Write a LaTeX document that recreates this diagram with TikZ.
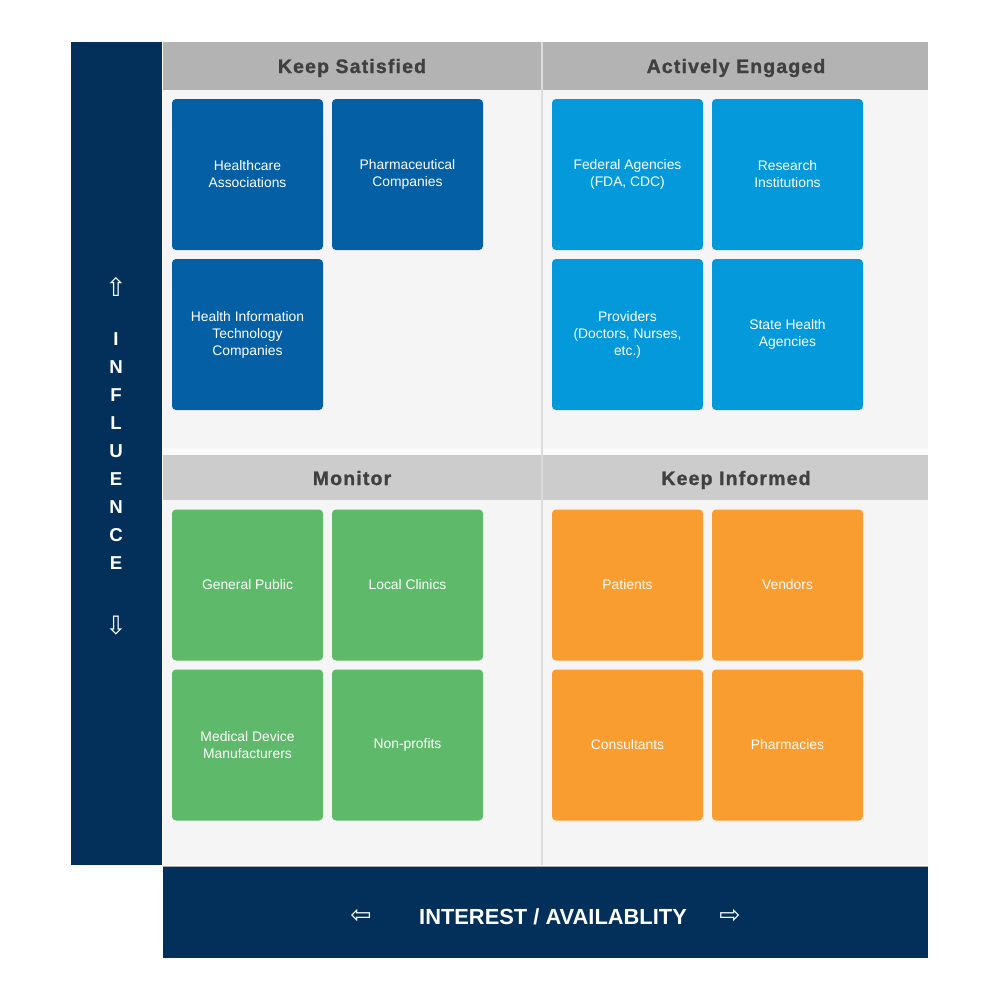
\documentclass[tikz,border=0pt]{standalone}
\usepackage{fontspec}
\setmainfont{Liberation Sans}
\newfontfamily\symfont{DejaVu Sans}
\newfontfamily\headfont[LetterSpace=6,BoldFeatures={FakeBold=1.2}]{Liberation Sans}
\definecolor{navy}{HTML}{02305A}
\definecolor{hdtop}{HTML}{B3B3B3}
\definecolor{hdbot}{HTML}{CCCCCC}
\definecolor{panel}{HTML}{F5F5F5}
\definecolor{divider}{HTML}{DCDCDC}
\definecolor{hdtext}{HTML}{404040}
\definecolor{satblue}{HTML}{045FA5}
\definecolor{engblue}{HTML}{0499DB}
\definecolor{mongreen}{HTML}{5EB96A}
\definecolor{infoorange}{HTML}{F99D31}
\begin{document}
\begin{tikzpicture}[x=0.75pt, y=-0.75pt,
    stake/.style={fill=#1, rounded corners=3pt, minimum width=113.25pt,
        minimum height=113.25pt, inner sep=0pt, align=center, text=white,
        font=\fontsize{10.4}{12.7}\selectfont},
    quadtitle/.style={anchor=base, text=hdtext, font=\headfont\bfseries\fontsize{14.6}{16}\selectfont},
    axistxt/.style={text=white, font=\bfseries\fontsize{14}{16}\selectfont},
    axisarrow/.style={text=white, font=\symfont\fontsize{19}{20}\selectfont}]
    % 1. Canvas
    \useasboundingbox (0,0) rectangle (1000,1000);

    % 2. Panels, header bars and axis bars
    \fill[panel] (163,90) rectangle (928,865);
    \fill[hdtop] (163,42) rectangle (928,90);
    \fill[white!50!panel] (163,448) rectangle (928,455);
    \fill[hdbot] (163,455) rectangle (928,500);
    \fill[navy] (71,42) rectangle (162,865);
    \fill[navy] (163,867) rectangle (928,958);
    \draw[gray!70, line width=0.75pt] (163,866) -- (928,866);
    \draw[divider, line width=1.5pt] (541.5,42) -- (541.5,865);

    % 3. Quadrant titles
    \node[quadtitle] (ksat) at (352,73) {Keep Satisfied};
    \node[quadtitle] (aeng) at (736,73) {Actively Engaged};
    \node[quadtitle] (mon) at (352,485) {Monitor};
    \node[quadtitle] (kinf) at (736,485) {Keep Informed};

    % 4. Keep Satisfied
    \node[stake=satblue] (hca) at (247.5,174.5) {Healthcare\\Associations};
    \node[stake=satblue] (pharma) at (407.5,174.5) {Pharmaceutical\\Companies};
    \node[stake=satblue] (hit) at (247.5,334.5) {Health Information\\Technology\\Companies};

    % 5. Actively Engaged
    \node[stake=engblue] (fed) at (627.5,174.5) {Federal Agencies\\(FDA, CDC)};
    \node[stake=engblue] (res) at (787.5,174.5) {Research\\Institutions};
    \node[stake=engblue] (prov) at (627.5,334.5) {Providers\\(Doctors, Nurses,\\etc.)};
    \node[stake=engblue] (state) at (787.5,334.5) {State Health\\Agencies};

    % 6. Monitor
    \node[stake=mongreen] (pub) at (247.5,585) {General Public};
    \node[stake=mongreen] (clin) at (407.5,585) {Local Clinics};
    \node[stake=mongreen] (dev) at (247.5,745) {Medical Device\\Manufacturers};
    \node[stake=mongreen] (npo) at (407.5,745) {Non-profits};

    % 7. Keep Informed
    \node[stake=infoorange] (pat) at (627.5,585) {Patients};
    \node[stake=infoorange] (ven) at (787.5,585) {Vendors};
    \node[stake=infoorange] (cons) at (627.5,745) {Consultants};
    \node[stake=infoorange] (phcy) at (787.5,745) {Pharmacies};

    % 8. Axis labels
    \node[axisarrow] (upar) at (116,287) {⇧};
    \foreach \ch [count=\i] in {I,N,F,L,U,E,N,C,E}
        \node[axistxt] (inf\i) at (116,311+28*\i) {\ch};
    \node[axisarrow] (dnar) at (116,626) {⇩};

    \node[axisarrow] (ltar) at (361,916) {⇦};
    \node[axistxt, font=\bfseries\fontsize{16.4}{18}\selectfont] (intr) at (553,917) {INTEREST / AVAILABLITY};
    \node[axisarrow] (rtar) at (730,916) {⇨};
\end{tikzpicture}
\end{document}
